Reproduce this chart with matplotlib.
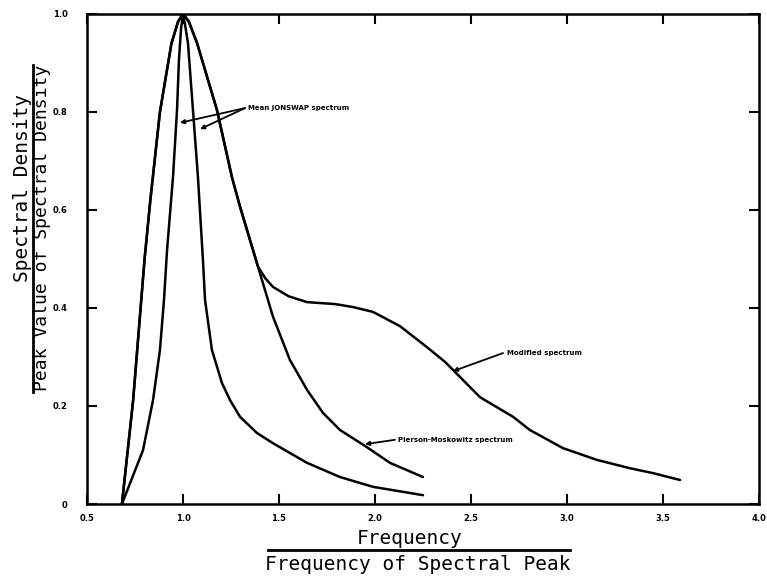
import numpy as np
import matplotlib
matplotlib.use("Agg")
import matplotlib.pyplot as plt

# Values (normalised frequency, normalised density)
jonswap_f = [0.682, 0.792, 0.844, 0.880, 0.901, 0.917, 0.948, 0.969, 0.979, 0.99, 1.0,
             1.01, 1.026, 1.052, 1.078, 1.104, 1.115, 1.151, 1.203, 1.245, 1.297, 1.385,
             1.469, 1.646, 1.818, 1.990, 2.25]
jonswap_s = [0.0, 0.11, 0.212, 0.314, 0.416, 0.518, 0.667, 0.804, 0.906, 0.97, 1.0,
             0.98, 0.941, 0.804, 0.667, 0.498, 0.416, 0.314, 0.247, 0.212, 0.178, 0.145,
             0.124, 0.084, 0.055, 0.035, 0.018]

pm_f = [0.682, 0.74, 0.80, 0.83, 0.88, 0.94, 0.975, 1.0,
        1.03, 1.073, 1.177, 1.255, 1.297, 1.365, 1.391, 1.469, 1.557, 1.646, 1.729,
        1.818, 1.958, 2.078, 2.25]
pm_s = [0.0, 0.21, 0.50, 0.62, 0.80, 0.94, 0.985, 1.0,
        0.985, 0.941, 0.804, 0.667, 0.607, 0.518, 0.484, 0.382, 0.294, 0.233, 0.186,
        0.151, 0.116, 0.084, 0.055]

# modified spectrum follows P-M up to f ~ 1.39, then has a second bump
mod_f = [0.682, 0.74, 0.80, 0.83, 0.88, 0.94, 0.975, 1.0,
         1.03, 1.073, 1.177, 1.255, 1.297, 1.365, 1.391,
         1.43, 1.469, 1.55, 1.646, 1.792, 1.885, 1.990, 2.130, 2.271, 2.365, 2.547,
         2.719, 2.807, 2.979, 3.156, 3.328, 3.448, 3.589]
mod_s = [0.0, 0.21, 0.50, 0.62, 0.80, 0.94, 0.985, 1.0,
         0.985, 0.941, 0.804, 0.667, 0.607, 0.518, 0.484,
         0.46, 0.443, 0.424, 0.412, 0.408, 0.402, 0.392, 0.363, 0.320, 0.290, 0.218,
         0.178, 0.151, 0.114, 0.090, 0.073, 0.063, 0.049]

x_ticks = [0.5, 1.0, 1.5, 2.0, 2.5, 3.0, 3.5, 4.0]
x_labels = ["0.5", "1.0", "1.5", "2.0", "2.5", "3.0", "3.5", "4.0"]
y_ticks = [0, 0.2, 0.4, 0.6, 0.8, 1.0]
y_labels = ["0", "0.2", "0.4", "0.6", "0.8", "1.0"]

fig = plt.figure(figsize=(7.67, 5.76), dpi=100)
ax = fig.add_axes([0.1134, 0.125, 0.8761, 0.8507])

for f, s in [(jonswap_f, jonswap_s), (pm_f, pm_s), (mod_f, mod_s)]:
    ax.plot(f, s, color="black", lw=1.8, solid_joinstyle="round",
            solid_capstyle="round")

ax.set_xlim(0.5, 4.0)
ax.set_ylim(0, 1.0)
ax.set_xticks(x_ticks)
ax.set_xticklabels(x_labels)
ax.set_yticks(y_ticks)
ax.set_yticklabels(y_labels)
ax.tick_params(direction="in", length=7, width=1.5, top=True, right=True,
               labelsize=6)
ax.tick_params(axis="x", pad=7)
ax.tick_params(axis="y", pad=14)
for lab in ax.get_xticklabels() + ax.get_yticklabels():
    lab.set_fontweight("bold")
for sp in ax.spines.values():
    sp.set_linewidth(1.8)

# annotations
arrow = dict(arrowstyle="-|>", lw=1.3, color="black", mutation_scale=6,
             shrinkA=0, shrinkB=0)
txt = dict(fontsize=5, fontweight="bold", va="center", ha="left")
ax.annotate("", xy=(0.984, 0.778), xytext=(1.323, 0.808), arrowprops=arrow)
ax.annotate("", xy=(1.089, 0.765), xytext=(1.323, 0.808), arrowprops=arrow)
ax.text(1.34, 0.808, "Mean JONSWAP spectrum", **txt)
ax.annotate("", xy=(1.948, 0.122), xytext=(2.104, 0.131), arrowprops=arrow)
ax.text(2.12, 0.131, "Pierson-Moskowitz spectrum", **txt)
ax.annotate("", xy=(2.406, 0.271), xytext=(2.667, 0.308), arrowprops=arrow)
ax.text(2.69, 0.308, "Modified spectrum", **txt)

# fraction-style axis labels
mono = "DejaVu Sans Mono"
fig.text(410 / 767, 1 - 538 / 576, "Frequency", family=mono, fontsize=14,
         ha="center", va="center")
fig.text(418 / 767, 1 - 565 / 576, "Frequency of Spectral Peak", family=mono,
         fontsize=14, ha="center", va="center")
fig.add_artist(plt.Line2D([268 / 767, 570 / 767], [1 - 550 / 576, 1 - 550 / 576],
                          color="black", lw=2))

fig.text(23 / 767, 1 - 188 / 576, "Spectral Density", family=mono, fontsize=14,
         rotation=90, ha="center", va="center")
fig.text(42 / 767, 1 - 228 / 576, "Peak Value of Spectral Density", family=mono,
         fontsize=13, rotation=90, ha="center", va="center")
fig.add_artist(plt.Line2D([33 / 767, 33 / 767], [1 - 65 / 576, 1 - 392 / 576],
                          color="black", lw=2))

fig.savefig("out.png", dpi=100)
